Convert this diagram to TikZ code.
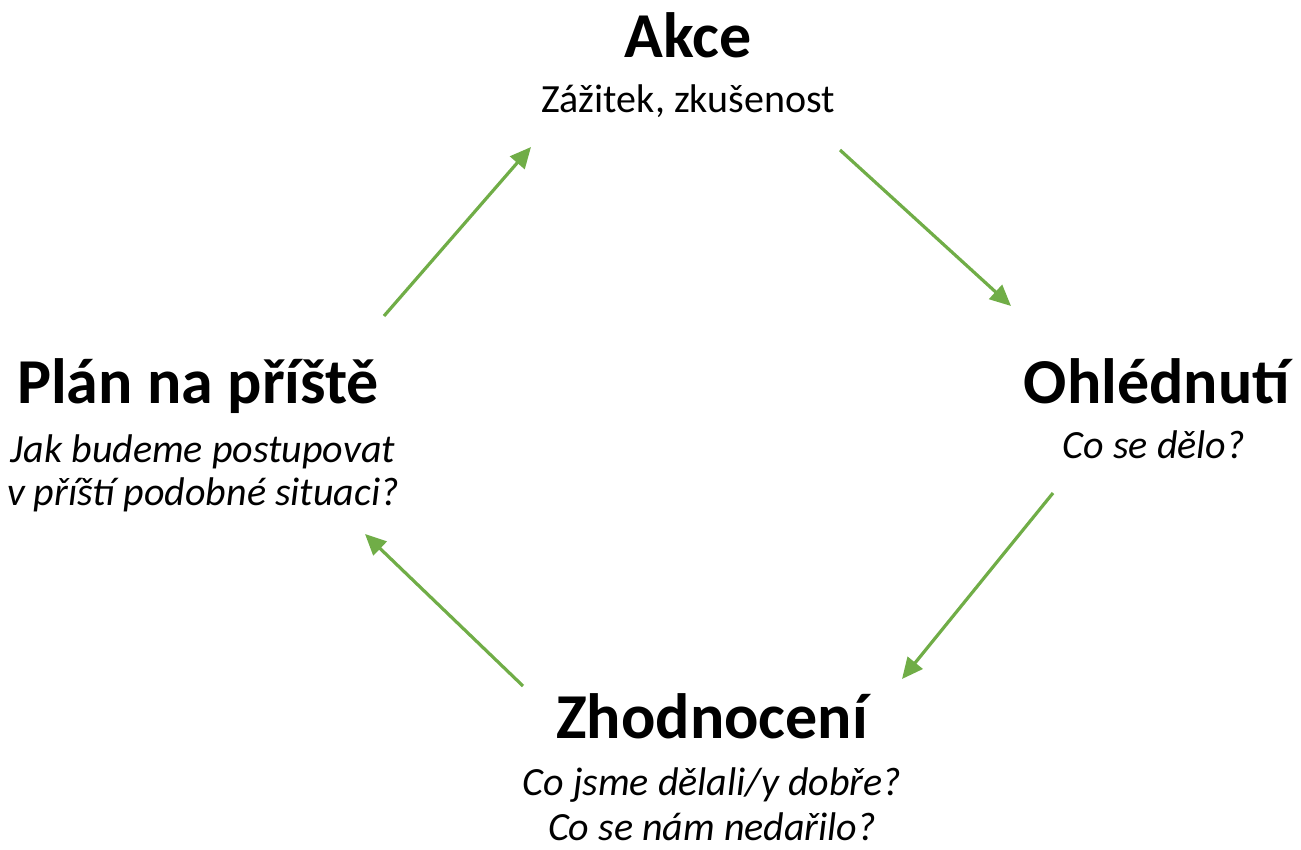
\documentclass[tikz,border=0pt]{standalone}
\usepackage{fontspec}
\setmainfont{Carlito}
\usetikzlibrary{arrows.meta}
\definecolor{cgreen}{HTML}{70AD47}
\begin{document}
\begin{tikzpicture}[x=1pt,y=-1pt,
  ttl/.style={anchor=base,inner sep=0pt,font=\fontsize{64}{66}\selectfont\bfseries},
  sub/.style={anchor=base,inner sep=0pt,font=\fontsize{40}{45}\selectfont\itshape,align=center},
  subup/.style={anchor=base,inner sep=0pt,font=\fontsize{40}{45}\selectfont},
  conn/.style={draw=cgreen,line width=3.2pt,-{Triangle[length=21pt,width=19pt]}}]
\useasboundingbox (0,0) rectangle (1301,849);
\node[ttl] (akceT) at (688,57) {Akce};
\node[subup] (akceS) at (688,112) {Zážitek, zkušenost};
\node[ttl] (ohlT) at (1157,403) {Ohlédnutí};
\node[sub] (ohlS) at (1154,458) {Co se dělo?};
\node[ttl] (zhoT) at (712,738) {Zhodnocení};
\node[sub] (zhoS1) at (712,795) {Co jsme dělali/y dobře?};
\node[sub] (zhoS2) at (712,840) {Co se nám nedařilo?};
\node[ttl] (planT) at (198,403) {Plán na příště};
\node[sub] (planS1) at (203,462) {Jak budeme postupovat};
\node[sub] (planS2) at (203,505) {v příští podobné situaci?};
\coordinate (a1) at (384,316); \coordinate (b1) at (531,147);
\coordinate (a2) at (840,150); \coordinate (b2) at (1011,306);
\coordinate (a3) at (1053,493); \coordinate (b3) at (902,679);
\coordinate (a4) at (523,686); \coordinate (b4) at (365,534);
\draw[conn] (a1) -- (b1);
\draw[conn] (a2) -- (b2);
\draw[conn] (a3) -- (b3);
\draw[conn] (a4) -- (b4);
\end{tikzpicture}
\end{document}
